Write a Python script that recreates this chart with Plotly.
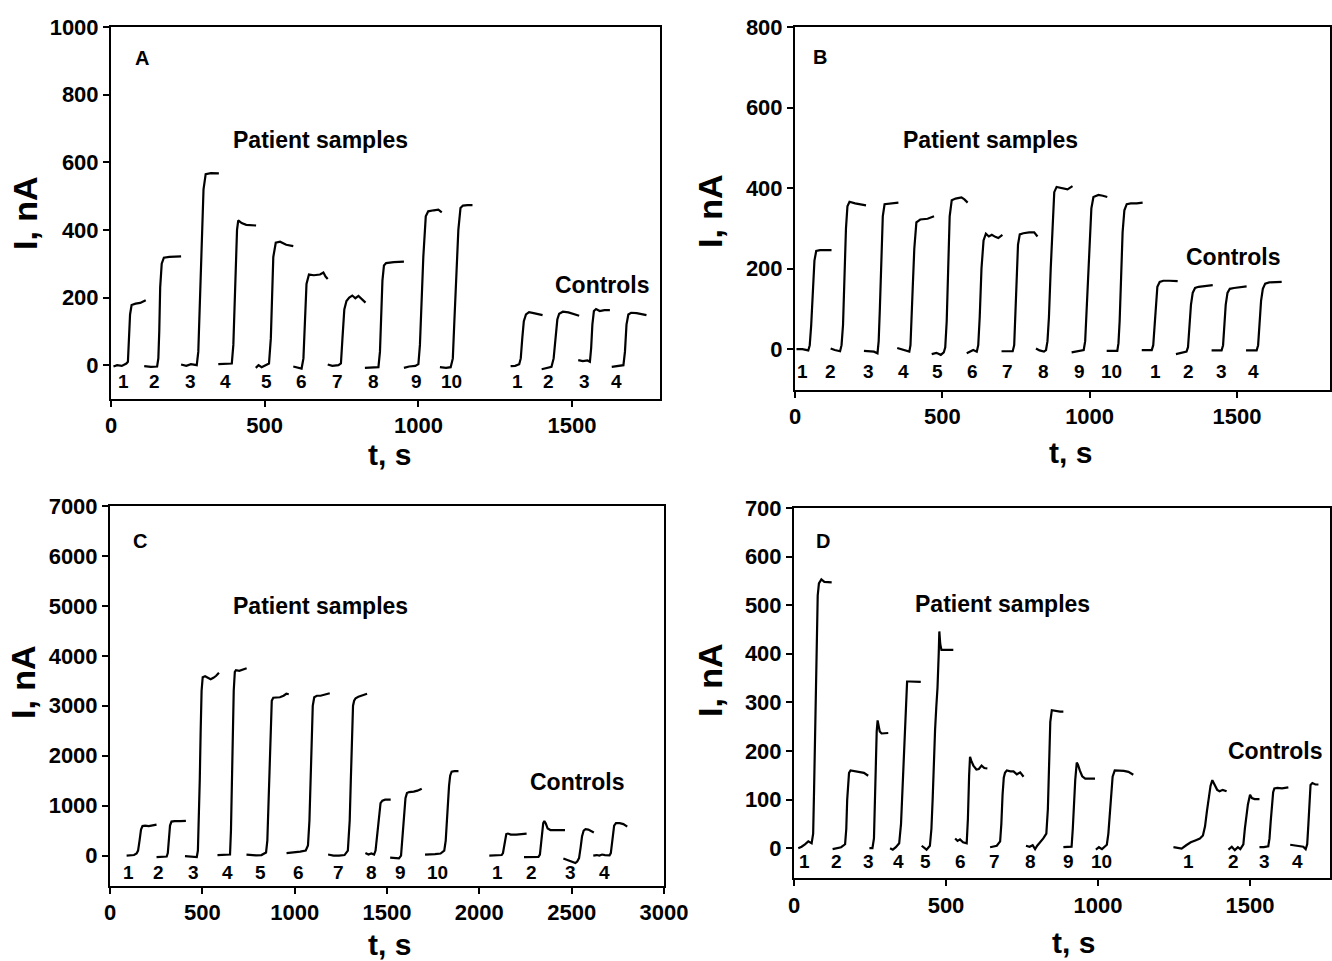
import plotly.graph_objects as go

FONT = "Liberation Sans, Arial, sans-serif"

# ---------------- Panel A ----------------
A_t = [
    [8, 20, 35, 50, 55, 58, 62, 67, 80, 95, 105, 113],
    [108, 130, 150, 154, 157, 160, 165, 172, 190, 210, 228],
    [228, 245, 260, 279, 284, 289, 295, 301, 308, 325, 351],
    [349, 370, 393, 398, 402, 406, 410, 414, 425, 440, 472],
    [471, 480, 490, 505, 514, 520, 524, 528, 536, 550, 570, 593],
    [593, 605, 620, 626, 630, 636, 644, 660, 680, 691, 698, 705],
    [705, 720, 740, 748, 753, 759, 766, 775, 785, 795, 805, 815, 828],
    [826, 845, 870, 875, 879, 883, 888, 895, 920, 953],
    [953, 970, 990, 1000, 1005, 1010, 1016, 1024, 1032, 1050, 1065, 1076],
    [1070, 1090, 1105, 1112, 1117, 1124, 1130, 1137, 1145, 1160, 1176],
    [1300, 1315, 1328, 1333, 1338, 1343, 1350, 1360, 1375, 1390, 1404],
    [1401, 1415, 1433, 1440, 1446, 1452, 1458, 1470, 1488, 1505, 1523],
    [1520, 1535, 1550, 1558, 1562, 1566, 1571, 1578, 1590, 1605, 1623],
    [1629, 1645, 1660, 1667, 1672, 1677, 1683, 1692, 1710, 1725, 1742],
]
A_I = [
    [-4, 0, -2, 5, 10, 60, 150, 178, 182, 184, 188, 192],
    [-3, -5, -4, 20, 100, 230, 300, 318, 320, 320, 322],
    [2, -2, 3, 0, 40, 200, 340, 520, 565, 568, 567],
    [3, 4, 5, 60, 180, 320, 400, 428, 420, 415, 413],
    [-8, 0, -6, 2, 5, 80, 200, 320, 362, 365, 356, 352],
    [-4, -6, -10, 20, 120, 240, 268, 266, 268, 274, 262, 255],
    [2, -2, 0, 5, 80, 165, 190, 200, 206, 198, 205, 195, 185],
    [-8, -7, -6, 40, 150, 250, 295, 302, 305, 306],
    [-8, -4, -2, 3, 60, 200, 320, 440, 455, 458, 460, 452],
    [-6, -8, -6, 20, 130, 270, 400, 465, 472, 473, 473],
    [-3, -2, 3, 20, 80, 130, 150, 157, 154, 152, 148],
    [-12, -8, -5, 20, 90, 135, 152, 158, 156, 152, 146],
    [15, 12, 14, 10, 50, 120, 160, 166, 160, 163, 163],
    [-5, -3, -2, 0, 40, 120, 150, 155, 154, 152, 148],
]
A_label_t = [42, 140, 260, 374, 507, 621, 738, 855, 995, 1109, 1321, 1422, 1539, 1646]

# ---------------- Panel B ----------------
B_t = [
    [5, 25, 45, 50, 55, 60, 66, 72, 85, 105, 124],
    [121, 135, 153, 158, 163, 168, 173, 178, 185, 204, 241],
    [234, 250, 268, 280, 284, 288, 293, 298, 304, 320, 351],
    [347, 360, 375, 388, 392, 396, 400, 405, 412, 425, 450, 472],
    [464, 480, 495, 505, 510, 515, 520, 525, 532, 545, 565, 575, 586],
    [583, 595, 605, 617, 622, 627, 633, 640, 648, 658, 668, 680, 690, 704],
    [701, 720, 739, 744, 748, 752, 757, 763, 775, 795, 812, 823],
    [818, 830, 845, 852, 857, 862, 868, 874, 880, 888, 905, 925, 942],
    [939, 955, 970, 980, 985, 990, 995, 1000, 1006, 1013, 1030, 1045, 1060],
    [1058, 1075, 1094, 1098, 1102, 1107, 1112, 1118, 1126, 1140, 1160, 1180],
    [1177, 1195, 1211, 1216, 1220, 1225, 1230, 1238, 1250, 1270, 1299],
    [1293, 1310, 1329, 1334, 1339, 1344, 1350, 1358, 1370, 1390, 1418],
    [1414, 1430, 1448, 1453, 1457, 1462, 1468, 1476, 1490, 1510, 1533],
    [1531, 1548, 1567, 1572, 1577, 1582, 1588, 1596, 1610, 1630, 1652],
]
B_I = [
    [0, 0, -3, 10, 60, 150, 220, 244, 246, 246, 246],
    [2, -2, -5, 10, 60, 180, 300, 355, 366, 362, 357],
    [-4, -5, -6, -10, 20, 100, 230, 330, 360, 362, 364],
    [3, 0, -2, -6, 10, 70, 160, 250, 315, 322, 324, 330],
    [-12, -9, -14, -8, 5, 70, 200, 330, 370, 374, 377, 372, 364],
    [-10, -5, -2, -6, 10, 80, 200, 270, 287, 280, 284, 279, 276, 284],
    [-5, -5, -5, 10, 80, 180, 260, 285, 288, 290, 290, 280],
    [2, -3, -6, -2, 20, 80, 200, 320, 390, 403, 401, 397, 405],
    [-8, -6, -4, -2, 20, 100, 200, 290, 350, 378, 383, 381, 378],
    [-4, -4, -4, 15, 70, 180, 290, 345, 360, 362, 362, 364],
    [-2, -2, -2, 10, 60, 120, 155, 167, 170, 170, 169],
    [-12, -9, -6, 5, 50, 110, 140, 152, 155, 156, 159],
    [-3, -3, -3, 10, 50, 110, 140, 150, 152, 153, 156],
    [-3, -3, -3, 10, 60, 120, 150, 163, 166, 167, 167],
]
B_label_t = [27, 122, 251, 367, 485, 604, 720, 842, 964, 1076, 1225, 1334, 1446, 1558]

# ---------------- Panel C ----------------
C_t = [
    [90, 110, 130, 144, 152, 160, 168, 176, 190, 210, 232, 252],
    [252, 270, 290, 307, 313, 319, 325, 333, 350, 380, 411],
    [406, 425, 445, 460, 470, 476, 481, 486, 491, 496, 502, 515, 530, 545, 560, 575, 590],
    [582, 600, 620, 640, 650, 655, 660, 665, 670, 676, 682, 700, 720, 740],
    [739, 760, 790, 820, 845, 852, 858, 864, 870, 876, 884, 900, 920, 940, 955, 968],
    [956, 990, 1030, 1060, 1072, 1080, 1086, 1092, 1098, 1106, 1120, 1140, 1160, 1190],
    [1181, 1210, 1240, 1270, 1288, 1298, 1304, 1310, 1316, 1322, 1330, 1345, 1365, 1392],
    [1383, 1400, 1415, 1430, 1438, 1446, 1452, 1458, 1465, 1475, 1490, 1520],
    [1517, 1535, 1550, 1565, 1576, 1582, 1588, 1594, 1600, 1608, 1620, 1645, 1665, 1688],
    [1706, 1730, 1760, 1790, 1810, 1818, 1824, 1830, 1836, 1842, 1850, 1865, 1887],
    [2054, 2080, 2105, 2121, 2128, 2134, 2140, 2146, 2155, 2170, 2200, 2230, 2256],
    [2242, 2270, 2300, 2320, 2328, 2334, 2340, 2346, 2352, 2360, 2370, 2385, 2420, 2464],
    [2455, 2475, 2500, 2520, 2530, 2540, 2548, 2556, 2565, 2575, 2590, 2605, 2620],
    [2617, 2635, 2650, 2665, 2680, 2695, 2705, 2712, 2718, 2724, 2730, 2740, 2760, 2780, 2801],
]
C_I = [
    [0, 0, 10, 40, 100, 300, 520, 590, 600, 590, 600, 620],
    [-30, -30, -25, -20, 50, 300, 600, 680, 690, 690, 695],
    [-10, -20, -25, -35, -30, 100, 700, 1500, 2500, 3300, 3570, 3590, 3560, 3530, 3560, 3600, 3660],
    [10, 10, 10, 10, 20, 500, 1500, 2500, 3300, 3680, 3710, 3700, 3720, 3750],
    [20, 10, 5, 10, 60, 300, 1000, 2000, 2800, 3100, 3160, 3160, 3170, 3200, 3240, 3230],
    [50, 60, 80, 100, 200, 700, 1500, 2400, 3000, 3170, 3200, 3200, 3220, 3250],
    [20, 0, 0, 10, 100, 700, 1500, 2400, 3000, 3100, 3150, 3180, 3200, 3240],
    [50, 20, 40, 20, 100, 400, 700, 900, 1050, 1100, 1120, 1120],
    [-40, -50, -55, -55, 0, 300, 700, 1000, 1150, 1250, 1270, 1280, 1300, 1340],
    [20, 20, 30, 40, 100, 300, 700, 1100, 1400, 1600, 1680, 1690, 1690],
    [0, 0, 5, 10, 50, 200, 350, 430, 440, 420, 420, 425, 440],
    [-30, -30, -30, -25, 20, 200, 450, 650, 690, 640, 540, 510, 510, 510],
    [-60, -90, -120, -150, -120, -50, 150, 380, 500, 530, 520, 490, 460],
    [0, 10, 0, 20, 10, 0, 5, 50, 200, 450, 600, 650, 650, 630, 580],
]
C_label_t = [98, 264, 453, 634, 814, 1021, 1237, 1418, 1575, 1773, 2099, 2283, 2494, 2680]

# ---------------- Panel D ----------------
D_t = [
    [14, 25, 36, 47, 58, 63, 66, 69, 72, 75, 78, 82, 90, 100, 112, 124],
    [127, 140, 155, 168, 172, 175, 178, 181, 186, 200, 215, 230, 244],
    [248, 258, 263, 266, 269, 272, 275, 278, 282, 288, 300, 310],
    [316, 325, 335, 346, 352, 356, 360, 364, 368, 372, 380, 395, 417],
    [420, 428, 436, 447, 452, 456, 460, 464, 468, 472, 476, 478, 481, 485, 500, 524],
    [530, 538, 546, 556, 568, 572, 576, 579, 583, 590, 600, 608, 617, 626, 636],
    [645, 655, 667, 678, 682, 686, 690, 694, 700, 712, 722, 733, 744, 755],
    [763, 775, 785, 793, 800, 810, 820, 830, 835, 839, 843, 848, 860, 875, 886],
    [886, 900, 913, 917, 921, 925, 930, 934, 940, 948, 958, 975, 990],
    [993, 1003, 1013, 1022, 1029, 1034, 1038, 1043, 1048, 1055, 1070, 1085, 1100, 1116],
    [1248, 1262, 1275, 1290, 1305, 1320, 1335, 1345, 1352, 1358, 1364, 1370, 1376, 1383, 1392, 1400, 1410, 1423],
    [1429, 1440, 1450, 1460, 1468, 1478, 1483, 1488, 1493, 1500, 1506, 1515, 1531],
    [1531, 1545, 1560, 1564, 1568, 1572, 1576, 1580, 1590, 1605, 1626],
    [1632, 1645, 1655, 1664, 1675, 1683, 1688, 1692, 1695, 1699, 1705, 1715, 1725],
]
D_I = [
    [0, 3, 8, 14, 10, 30, 120, 243, 350, 449, 520, 545, 553, 548, 548, 547],
    [-2, 0, 2, 8, 40, 100, 145, 155, 160, 158, 157, 155, 149],
    [0, 0, 20, 100, 180, 240, 263, 255, 240, 236, 237, 237],
    [0, -3, 2, 10, 50, 110, 170, 240, 312, 343, 343, 342, 342],
    [5, 0, -3, 5, 40, 100, 180, 243, 290, 330, 400, 446, 420, 408, 408, 408],
    [20, 15, 18, 12, 10, 60, 150, 188, 180, 170, 162, 163, 170, 165, 164],
    [2, 3, 5, 14, 50, 110, 145, 155, 160, 158, 158, 152, 156, 147],
    [5, 3, 6, -2, 5, 12, 20, 30, 80, 170, 260, 284, 282, 281, 281],
    [2, 2, 3, 40, 100, 140, 176, 172, 160, 148, 143, 143, 143],
    [-3, 2, -2, 4, 7, 30, 70, 100, 147, 160, 160, 159, 157, 151],
    [2, 0, -1, 6, 12, 16, 20, 26, 45, 75, 105, 128, 140, 130, 120, 117, 120, 117],
    [-3, 3, -4, 2, -2, 8, 40, 70, 90, 110, 103, 101, 101],
    [2, 2, 4, 20, 55, 85, 115, 123, 124, 123, 125],
    [7, 6, 6, 5, 3, -2, 8, 50, 100, 130, 134, 131, 131],
]
D_label_t = [36, 140, 245, 343, 431, 546, 661, 778, 902, 1012, 1297, 1445, 1546, 1655]

SAMPLE_LABELS = ["1", "2", "3", "4", "5", "6", "7", "8", "9", "10", "1", "2", "3", "4"]
PANEL_LETTERS = ["A", "B", "C", "D"]

panels = [
    dict(t=A_t, I=A_I, lt=A_label_t, lI=-47, letter=(101, 908), pat=(680, 666), ctl=(1600, 237),
         xr=[0, 1786], yr=[-100, 1000], dy=200,
         xd=[111 / 1332, 660 / 1332], yd=[1 - 399 / 961, 1 - 27 / 961],
         yt=(25, 213), xt=(389, 454)),
    dict(t=B_t, I=B_I, lt=B_label_t, lI=-55, letter=(85, 725), pat=(662, 519), ctl=(1490, 228),
         xr=[0, 1816], yr=[-100, 800], dy=200,
         xd=[795 / 1332, 1330 / 1332], yd=[1 - 389.5 / 961, 1 - 27 / 961],
         yt=(710, 211), xt=(1070, 452)),
    dict(t=C_t, I=C_I, lt=C_label_t, lI=-330, letter=(164, 6290), pat=(1139, 4990), ctl=(2533, 1470),
         xr=[0, 3000], yr=[-600, 7000], dy=1000,
         xd=[110 / 1332, 664 / 1332], yd=[1 - 885.5 / 961, 1 - 506 / 961],
         yt=(23, 682), xt=(389, 944)),
    dict(t=D_t, I=D_I, lt=D_label_t, lI=-28, letter=(95, 632), pat=(687, 503), ctl=(1585, 200),
         xr=[0, 1763], yr=[-62, 700], dy=100,
         xd=[794 / 1332, 1330 / 1332], yd=[1 - 878.3 / 961, 1 - 508 / 961],
         yt=(710, 680), xt=(1073, 942)),
]

fig = go.Figure()
annotations = []
layout_axes = {}

for k, p in enumerate(panels):
    n = "" if k == 0 else str(k + 1)
    xs, ys = [], []
    for seg_t, seg_I in zip(p["t"], p["I"]):
        xs += seg_t + [None]
        ys += seg_I + [None]
    fig.add_trace(go.Scatter(x=xs, y=ys, mode="lines",
                             line=dict(color="black", width=2.2),
                             xaxis="x" + n, yaxis="y" + n,
                             showlegend=False, hoverinfo="skip",
                             connectgaps=False))
    axcommon = dict(showline=True, linecolor="black", linewidth=2, mirror=True,
                    ticks="outside", ticklen=6, tickwidth=2, tickcolor="black",
                    showgrid=False, zeroline=False, automargin=False,
                    tickfont=dict(family=FONT, size=22, color="black", weight="bold"))
    layout_axes["xaxis" + n] = dict(axcommon, domain=p["xd"], range=p["xr"], dtick=500,
                                    tick0=0, anchor="y" + n)
    layout_axes["yaxis" + n] = dict(axcommon, domain=p["yd"], range=p["yr"], dtick=p["dy"],
                                    tick0=0, anchor="x" + n)
    xref, yref = "x" + n, "y" + n
    for txt, tx in zip(SAMPLE_LABELS, p["lt"]):
        annotations.append(dict(x=tx, y=p["lI"], xref=xref, yref=yref, text=txt,
                                showarrow=False, xanchor="center", yanchor="middle",
                                font=dict(family=FONT, size=19, color="black", weight="bold")))
    annotations.append(dict(x=p["letter"][0], y=p["letter"][1], xref=xref, yref=yref,
                            text=PANEL_LETTERS[k], showarrow=False,
                            xanchor="center", yanchor="middle",
                            font=dict(family=FONT, size=20, color="black", weight="bold")))
    annotations.append(dict(x=p["pat"][0], y=p["pat"][1], xref=xref, yref=yref,
                            text="Patient samples", showarrow=False,
                            xanchor="center", yanchor="middle",
                            font=dict(family=FONT, size=23, color="black", weight="bold")))
    annotations.append(dict(x=p["ctl"][0], y=p["ctl"][1], xref=xref, yref=yref,
                            text="Controls", showarrow=False,
                            xanchor="center", yanchor="middle",
                            font=dict(family=FONT, size=23, color="black", weight="bold")))
    annotations.append(dict(x=p["yt"][0] / 1332, y=1 - p["yt"][1] / 961, xref="paper", yref="paper",
                            text="I, nA", textangle=-90, showarrow=False,
                            xanchor="center", yanchor="middle",
                            font=dict(family=FONT, size=34, color="black", weight="bold")))
    annotations.append(dict(x=p["xt"][0] / 1332, y=1 - p["xt"][1] / 961, xref="paper", yref="paper",
                            text="t, s", showarrow=False,
                            xanchor="center", yanchor="middle",
                            font=dict(family=FONT, size=30, color="black", weight="bold")))

fig.update_layout(width=1332, height=961,
                  margin=dict(l=0, r=0, t=0, b=0, pad=0, autoexpand=False),
                  paper_bgcolor="white", plot_bgcolor="white",
                  annotations=annotations, **layout_axes)

fig.write_html("out.html")
